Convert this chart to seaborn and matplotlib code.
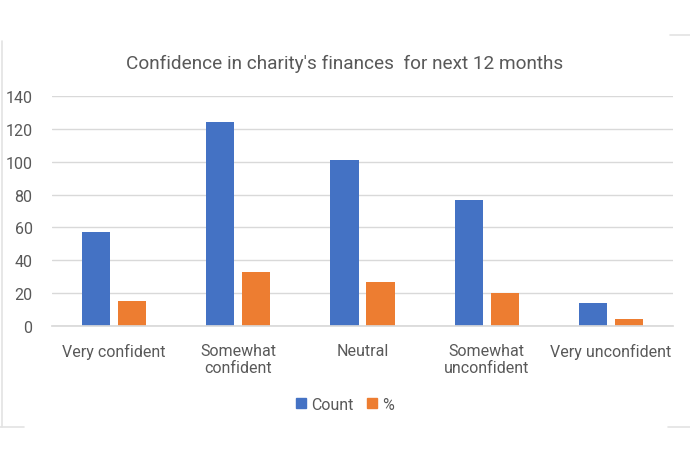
import matplotlib
matplotlib.use("Agg")
import matplotlib.pyplot as plt
import seaborn as sns
import pandas as pd
from matplotlib.lines import Line2D

categories = ["Very confident", "Somewhat\nconfident", "Neutral", "Somewhat\nunconfident", "Very unconfident"]
count_values = [57, 124, 101, 77, 14]
pct_values = [15, 33, 27, 20, 4]
series_names = ["Count", "%"]
y_ticks = [0, 20, 40, 60, 80, 100, 120, 140]
title = "Confidence in charity's finances  for next 12 months"

df = pd.DataFrame({
    "Category": categories * 2,
    "Series": [series_names[0]] * len(categories) + [series_names[1]] * len(categories),
    "Value": count_values + pct_values,
})

sns.set_theme(style="white")
plt.rcParams["font.family"] = ["Roboto", "DejaVu Sans"]
text_color = "#595959"

fig = plt.figure(figsize=(6.9, 4.6), dpi=100)
ax = fig.add_axes([0.0754, 0.289, 0.9, 0.50])

sns.barplot(data=df, x="Category", y="Value", hue="Series", order=categories,
            hue_order=series_names, palette=["#4472C4", "#ED7D31"],
            width=0.58, gap=0.22, ax=ax, saturation=1, legend=False, linewidth=0)

ax.set_ylim(0, 140)
ax.set_yticks(y_ticks)
ax.set_yticklabels([str(t) for t in y_ticks], color=text_color, fontsize=11.5)
ax.set_xlim(-0.5, len(categories) - 0.5)
ax.grid(axis="y", color="#d9d9d9", linewidth=1)
ax.set_axisbelow(True)
for s in ["top", "right", "left"]:
    ax.spines[s].set_visible(False)
ax.spines["bottom"].set_color("#d9d9d9")
ax.tick_params(axis="x", length=0, pad=12)
ax.tick_params(axis="y", length=0, pad=14)
for lbl in ax.get_xticklabels():
    lbl.set_color(text_color)
    lbl.set_fontsize(11.5)
    lbl.set_linespacing(1.15)
ax.set_xlabel("")
ax.set_ylabel("")

fig.text(0.5, 1 - 64 / 460, title, ha="center", va="center", fontsize=13.7, color=text_color)

handles = [plt.Rectangle((0, 0), 1, 1, color="#4472C4"), plt.Rectangle((0, 0), 1, 1, color="#ED7D31")]
fig.legend(handles, series_names, loc="center", bbox_to_anchor=(0.5, 1 - 405 / 460), ncol=2,
           frameon=False, fontsize=11.5, handlelength=0.6, handleheight=0.6,
           handletextpad=0.3, columnspacing=0.9, labelcolor=text_color)

# faint chart-area border fragments
bc = "#e3e3e3"
fig.add_artist(Line2D([2 / 690, 2 / 690], [1 - 428 / 460, 1 - 42 / 460], color=bc, lw=1.2, transform=fig.transFigure))
fig.add_artist(Line2D([0, 24 / 690], [1 - 428 / 460, 1 - 428 / 460], color=bc, lw=1.2, transform=fig.transFigure))
fig.add_artist(Line2D([670 / 690, 1], [1 - 36 / 460, 1 - 36 / 460], color=bc, lw=1.2, transform=fig.transFigure))
fig.add_artist(Line2D([668 / 690, 1], [1 - 428 / 460, 1 - 428 / 460], color=bc, lw=1.2, transform=fig.transFigure))

fig.savefig("out.png", dpi=100, facecolor="white")
